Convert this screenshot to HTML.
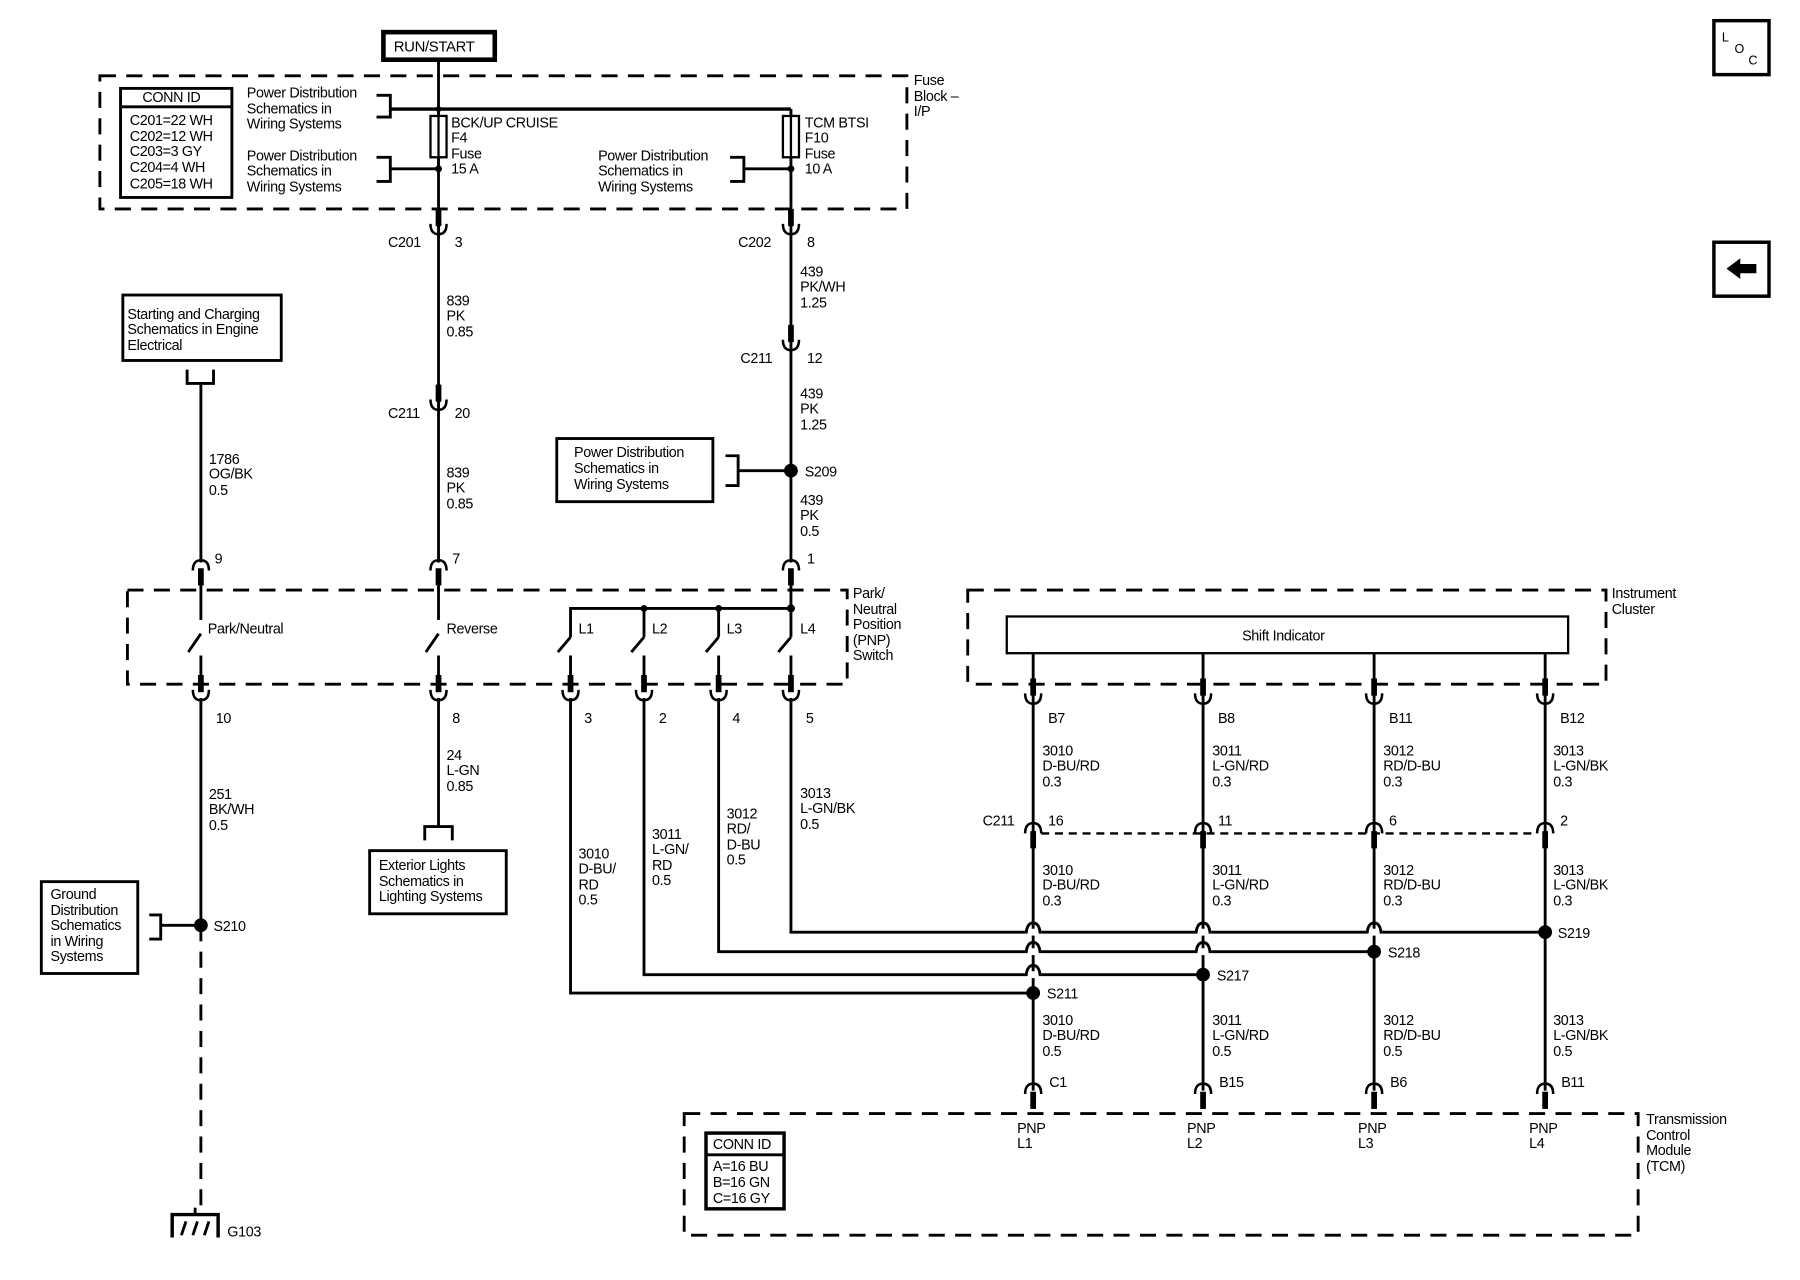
<!DOCTYPE html>
<html><head><meta charset="utf-8"><style>
html,body{margin:0;padding:0;background:#fff;}
svg{display:block;}
text{font-family:"Liberation Sans",sans-serif;font-size:12.5px;fill:#000;letter-spacing:-0.3px;}
</style></head><body>
<svg width="1800" height="1280" viewBox="0 0 1568 1115" preserveAspectRatio="none" xmlns="http://www.w3.org/2000/svg">
<defs>
<g id="cup"><line x1="0" y1="-22" x2="0" y2="-7" stroke="#000" stroke-width="5"/><path d="M-7,-9 Q-7,0 0,0 Q7,0 7,-9" fill="none" stroke="#000" stroke-width="2.2"/></g>
<g id="arch"><line x1="0" y1="7" x2="0" y2="22" stroke="#000" stroke-width="5"/><path d="M-7,9 Q-7,0 0,0 Q7,0 7,9" fill="none" stroke="#000" stroke-width="2.2"/></g>
<g id="hop"><rect x="-7" y="-3" width="14" height="6" fill="#fff"/><path d="M-7,0 L-6,0 Q-5,-8 0,-8 Q5,-8 6,0 L7,0" fill="none" stroke="#000" stroke-width="2.5"/></g>
</defs>
<g fill="none" stroke="#000">
<!-- dashed boxes -->
<rect x="87" y="66" width="703" height="116" stroke-width="2.5" stroke-dasharray="14,9"/>
<rect x="111" y="514" width="627" height="82" stroke-width="2.5" stroke-dasharray="14,9"/>
<rect x="843" y="514" width="556" height="82" stroke-width="2.5" stroke-dasharray="14,9"/>
<rect x="596" y="970" width="831" height="106" stroke-width="2.5" stroke-dasharray="14,9"/>
<!-- solid boxes -->
<rect x="334" y="28" width="97" height="24" stroke-width="4"/>
<rect x="105" y="77" width="97" height="95" stroke-width="2.5"/>
<line x1="105" y1="93" x2="202" y2="93" stroke-width="2.5"/>
<rect x="107" y="257" width="138" height="57" stroke-width="2.5"/>
<rect x="485" y="382" width="136" height="55" stroke-width="2.5"/>
<rect x="36" y="768" width="84" height="80" stroke-width="2.5"/>
<rect x="322" y="741" width="119" height="55" stroke-width="2.5"/>
<rect x="877" y="537" width="489" height="32" stroke-width="2"/>
<rect x="615" y="987" width="68" height="66" stroke-width="3"/>
<line x1="615" y1="1006" x2="683" y2="1006" stroke-width="2.5"/>
<rect x="1493" y="18" width="48" height="47" stroke-width="3"/>
<rect x="1493" y="211" width="48" height="47" stroke-width="3"/>
<!-- fuse block wiring -->
<line x1="382" y1="52" x2="382" y2="490" stroke-width="2.5"/>
<line x1="340" y1="95" x2="689" y2="95" stroke-width="3"/>
<line x1="689" y1="95" x2="689" y2="490" stroke-width="2.5"/>
<path d="M328,83 H340 V102 H328" stroke-width="2.5"/>
<path d="M328,137 H340 V158 H328" stroke-width="2.5"/>
<line x1="340" y1="147" x2="382" y2="147" stroke-width="2.5"/>
<path d="M636,137 H648 V158 H636" stroke-width="2.5"/>
<line x1="648" y1="147" x2="689" y2="147" stroke-width="2.5"/>
<rect x="375" y="101" width="14" height="36" fill="#fff" stroke-width="2"/>
<line x1="382" y1="101" x2="382" y2="137" stroke-width="2"/>
<rect x="682" y="101" width="14" height="36" fill="#fff" stroke-width="2"/>
<line x1="689" y1="101" x2="689" y2="137" stroke-width="2"/>
<!-- Power dist bracket S209 -->
<path d="M632,397 H643 V423 H632" stroke-width="2.5"/>
<line x1="643" y1="410" x2="689" y2="410" stroke-width="2.5"/>
<!-- starting charging -->
<path d="M163,322 V334 H186 V322" stroke-width="2.5"/>
<line x1="175" y1="334" x2="175" y2="490" stroke-width="2.5"/>
<!-- switches -->
<g stroke-width="2.5">
<line x1="175" y1="510" x2="175" y2="540"/><line x1="175" y1="552" x2="164" y2="568"/><line x1="175" y1="571" x2="175" y2="590"/>
<line x1="382" y1="510" x2="382" y2="540"/><line x1="382" y1="552" x2="371" y2="568"/><line x1="382" y1="571" x2="382" y2="590"/>
<path d="M497,555 V530 H689"/><line x1="497" y1="555" x2="486" y2="568"/><line x1="497" y1="571" x2="497" y2="590"/>
<line x1="561" y1="530" x2="561" y2="555"/><line x1="561" y1="555" x2="550" y2="568"/><line x1="561" y1="571" x2="561" y2="590"/>
<line x1="626" y1="530" x2="626" y2="555"/><line x1="626" y1="555" x2="615" y2="568"/><line x1="626" y1="571" x2="626" y2="590"/>
<line x1="689" y1="510" x2="689" y2="555"/><line x1="689" y1="555" x2="678" y2="568"/><line x1="689" y1="571" x2="689" y2="590"/>
</g>
<!-- below PNP -->
<line x1="175" y1="608" x2="175" y2="806" stroke-width="2.5"/>
<line x1="175" y1="806" x2="175" y2="1052" stroke-width="2.5" stroke-dasharray="14,9"/>
<path d="M130,797 H140 V818 H130" stroke-width="2.5"/>
<line x1="140" y1="806" x2="175" y2="806" stroke-width="2.5"/>
<path d="M150,1078 V1058 H190 V1078" stroke-width="3"/>
<line x1="170" y1="1052" x2="170" y2="1058" stroke-width="2.5"/>
<path d="M158,1076 L162,1064 M168,1076 L172,1064 M178,1076 L182,1064" stroke-width="2.5"/>
<line x1="382" y1="608" x2="382" y2="720" stroke-width="2.5"/>
<path d="M370,732 V720 H394 V732" stroke-width="2.5"/>
<path d="M497,608 V865 H900" stroke-width="2.5"/>
<path d="M561,608 V849 H1048" stroke-width="2.5"/>
<path d="M626,608 V829 H1197" stroke-width="2.5"/>
<path d="M689,608 V812 H1346" stroke-width="2.5"/>
<!-- cluster verticals -->
<g stroke-width="2.5">
<line x1="900" y1="569" x2="900" y2="950"/>
<line x1="1048" y1="569" x2="1048" y2="950"/>
<line x1="1197" y1="569" x2="1197" y2="950"/>
<line x1="1346" y1="569" x2="1346" y2="950"/>
</g>
<line x1="907" y1="726" x2="1339" y2="726" stroke-width="2" stroke-dasharray="7,5"/>
</g>
<!-- connectors -->
<use href="#cup" x="382" y="204"/><use href="#cup" x="689" y="204"/>
<use href="#cup" x="382" y="357"/><use href="#cup" x="689" y="305"/>
<use href="#arch" x="175" y="488"/><use href="#arch" x="382" y="488"/><use href="#arch" x="689" y="488"/>
<use href="#cup" x="175" y="610"/><use href="#cup" x="382" y="610"/><use href="#cup" x="497" y="610"/>
<use href="#cup" x="561" y="610"/><use href="#cup" x="626" y="610"/><use href="#cup" x="689" y="610"/>
<use href="#cup" x="900" y="613"/><use href="#cup" x="1048" y="613"/><use href="#cup" x="1197" y="613"/><use href="#cup" x="1346" y="613"/>
<use href="#arch" x="900" y="717"/><use href="#arch" x="1048" y="717"/><use href="#arch" x="1197" y="717"/><use href="#arch" x="1346" y="717"/>
<use href="#arch" x="900" y="944"/><use href="#arch" x="1048" y="944"/><use href="#arch" x="1197" y="944"/><use href="#arch" x="1346" y="944"/>
<!-- hops -->
<use href="#hop" x="900" y="812"/><use href="#hop" x="1048" y="812"/><use href="#hop" x="1197" y="812"/>
<use href="#hop" x="900" y="829"/><use href="#hop" x="1048" y="829"/>
<use href="#hop" x="900" y="849"/>
<!-- dots -->
<g fill="#000">
<circle cx="382" cy="95" r="2.5"/><circle cx="382" cy="147" r="3"/><circle cx="689" cy="147" r="3"/>
<circle cx="689" cy="410" r="6"/><circle cx="175" cy="806" r="6"/>
<circle cx="561" cy="530" r="3"/><circle cx="626" cy="530" r="3"/><circle cx="689" cy="530" r="3.5"/>
<circle cx="900" cy="865" r="6"/><circle cx="1048" cy="849" r="6"/><circle cx="1197" cy="829" r="6"/><circle cx="1346" cy="812" r="6"/>
<path d="M1504,234 L1516,225 V230 H1530 V238 H1516 V243 Z"/>
</g>
<!-- text -->
<text x="343" y="45" style="font-size:13px">RUN/START</text>
<text x="124" y="89">CONN ID</text>
<text x="113" y="109">C201=22 WH</text><text x="113" y="123">C202=12 WH</text><text x="113" y="136">C203=3 GY</text><text x="113" y="150">C204=4 WH</text><text x="113" y="164">C205=18 WH</text>
<text x="215" y="85">Power Distribution</text><text x="215" y="99">Schematics in</text><text x="215" y="112">Wiring Systems</text>
<text x="215" y="140">Power Distribution</text><text x="215" y="153">Schematics in</text><text x="215" y="167">Wiring Systems</text>
<text x="521" y="140">Power Distribution</text><text x="521" y="153">Schematics in</text><text x="521" y="167">Wiring Systems</text>
<text x="393" y="111">BCK/UP CRUISE</text><text x="393" y="124">F4</text><text x="393" y="138">Fuse</text><text x="393" y="151">15 A</text>
<text x="701" y="111">TCM BTSI</text><text x="701" y="124">F10</text><text x="701" y="138">Fuse</text><text x="701" y="151">10 A</text>
<text x="796" y="74">Fuse</text><text x="796" y="88">Block –</text><text x="796" y="101">I/P</text>
<text x="338" y="215">C201</text><text x="396" y="215">3</text>
<text x="643" y="215">C202</text><text x="703" y="215">8</text>
<text x="389" y="266">839</text><text x="389" y="279">PK</text><text x="389" y="293">0.85</text>
<text x="338" y="364">C211</text><text x="396" y="364">20</text>
<text x="389" y="416">839</text><text x="389" y="429">PK</text><text x="389" y="443">0.85</text>
<text x="697" y="241">439</text><text x="697" y="254">PK/WH</text><text x="697" y="268">1.25</text>
<text x="645" y="316">C211</text><text x="703" y="316">12</text>
<text x="697" y="347">439</text><text x="697" y="360">PK</text><text x="697" y="374">1.25</text>
<text x="500" y="398">Power Distribution</text><text x="500" y="412">Schematics in</text><text x="500" y="426">Wiring Systems</text>
<text x="701" y="415">S209</text>
<text x="697" y="440">439</text><text x="697" y="453">PK</text><text x="697" y="467">0.5</text>
<text x="111" y="278">Starting and Charging</text><text x="111" y="291">Schematics in Engine</text><text x="111" y="305">Electrical</text>
<text x="182" y="404">1786</text><text x="182" y="417">OG/BK</text><text x="182" y="431">0.5</text>
<text x="187" y="491">9</text><text x="394" y="491">7</text><text x="703" y="491">1</text>
<text x="181" y="552">Park/Neutral</text><text x="389" y="552">Reverse</text>
<text x="504" y="552">L1</text><text x="568" y="552">L2</text><text x="633" y="552">L3</text><text x="697" y="552">L4</text>
<text x="743" y="521">Park/</text><text x="743" y="535">Neutral</text><text x="743" y="548">Position</text><text x="743" y="562">(PNP)</text><text x="743" y="575">Switch</text>
<text x="1404" y="521">Instrument</text><text x="1404" y="535">Cluster</text>
<text x="1082" y="558">Shift Indicator</text>
<text x="188" y="630">10</text><text x="394" y="630">8</text><text x="509" y="630">3</text><text x="574" y="630">2</text><text x="638" y="630">4</text><text x="702" y="630">5</text>
<text x="913" y="630">B7</text><text x="1061" y="630">B8</text><text x="1210" y="630">B11</text><text x="1359" y="630">B12</text>
<text x="182" y="696">251</text><text x="182" y="709">BK/WH</text><text x="182" y="723">0.5</text>
<text x="389" y="662">24</text><text x="389" y="675">L-GN</text><text x="389" y="689">0.85</text>
<text x="330" y="758">Exterior Lights</text><text x="330" y="772">Schematics in</text><text x="330" y="785">Lighting Systems</text>
<text x="44" y="783">Ground</text><text x="44" y="797">Distribution</text><text x="44" y="810">Schematics</text><text x="44" y="824">in Wiring</text><text x="44" y="837">Systems</text>
<text x="186" y="811">S210</text>
<text x="198" y="1077">G103</text>
<text x="504" y="748">3010</text><text x="504" y="761">D-BU/</text><text x="504" y="775">RD</text><text x="504" y="788">0.5</text>
<text x="568" y="731">3011</text><text x="568" y="744">L-GN/</text><text x="568" y="758">RD</text><text x="568" y="771">0.5</text>
<text x="633" y="713">3012</text><text x="633" y="726">RD/</text><text x="633" y="740">D-BU</text><text x="633" y="753">0.5</text>
<text x="697" y="695">3013</text><text x="697" y="708">L-GN/BK</text><text x="697" y="722">0.5</text>
<text x="908" y="658">3010</text><text x="908" y="671">D-BU/RD</text><text x="908" y="685">0.3</text>
<text x="1056" y="658">3011</text><text x="1056" y="671">L-GN/RD</text><text x="1056" y="685">0.3</text>
<text x="1205" y="658">3012</text><text x="1205" y="671">RD/D-BU</text><text x="1205" y="685">0.3</text>
<text x="1353" y="658">3013</text><text x="1353" y="671">L-GN/BK</text><text x="1353" y="685">0.3</text>
<text x="856" y="719">C211</text><text x="913" y="719">16</text><text x="1061" y="719">11</text><text x="1210" y="719">6</text><text x="1359" y="719">2</text>
<text x="908" y="762">3010</text><text x="908" y="775">D-BU/RD</text><text x="908" y="789">0.3</text>
<text x="1056" y="762">3011</text><text x="1056" y="775">L-GN/RD</text><text x="1056" y="789">0.3</text>
<text x="1205" y="762">3012</text><text x="1205" y="775">RD/D-BU</text><text x="1205" y="789">0.3</text>
<text x="1353" y="762">3013</text><text x="1353" y="775">L-GN/BK</text><text x="1353" y="789">0.3</text>
<text x="1357" y="817">S219</text><text x="1209" y="834">S218</text><text x="1060" y="854">S217</text><text x="912" y="870">S211</text>
<text x="908" y="893">3010</text><text x="908" y="906">D-BU/RD</text><text x="908" y="920">0.5</text>
<text x="1056" y="893">3011</text><text x="1056" y="906">L-GN/RD</text><text x="1056" y="920">0.5</text>
<text x="1205" y="893">3012</text><text x="1205" y="906">RD/D-BU</text><text x="1205" y="920">0.5</text>
<text x="1353" y="893">3013</text><text x="1353" y="906">L-GN/BK</text><text x="1353" y="920">0.5</text>
<text x="914" y="947">C1</text><text x="1062" y="947">B15</text><text x="1211" y="947">B6</text><text x="1360" y="947">B11</text>
<text x="886" y="987">PNP</text><text x="886" y="1000">L1</text>
<text x="1034" y="987">PNP</text><text x="1034" y="1000">L2</text>
<text x="1183" y="987">PNP</text><text x="1183" y="1000">L3</text>
<text x="1332" y="987">PNP</text><text x="1332" y="1000">L4</text>
<text x="621" y="1001">CONN ID</text>
<text x="621" y="1020">A=16 BU</text><text x="621" y="1034">B=16 GN</text><text x="621" y="1048">C=16 GY</text>
<text x="1434" y="979">Transmission</text><text x="1434" y="993">Control</text><text x="1434" y="1006">Module</text><text x="1434" y="1020">(TCM)</text>
<text x="1500" y="36" style="font-size:11px">L</text><text x="1511" y="46" style="font-size:11px">O</text><text x="1523" y="56" style="font-size:11px">C</text>
</svg>
</body></html>
